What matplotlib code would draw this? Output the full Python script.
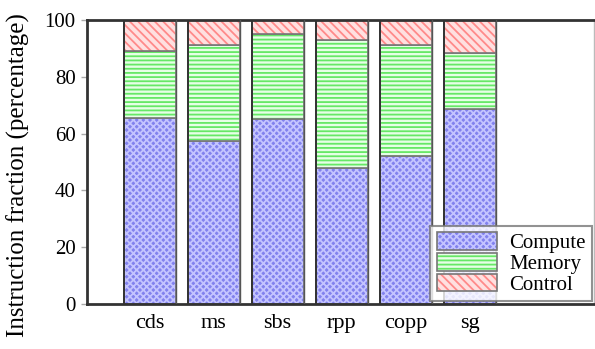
import numpy as np
import matplotlib
matplotlib.use('Agg')
import matplotlib.pyplot as plt
from matplotlib.legend_handler import HandlerTuple

plt.rcParams.update({
    "font.family": "serif",
    "font.serif": ["Liberation Serif", "Times New Roman", "DejaVu Serif"],
    "font.size": 15,
    "hatch.linewidth": 1.3,
})

benchmarks = ["cds", "ms", "sbs", "rpp", "copp", "sg"]
compute = [65.5, 57.5, 65.0, 48.0, 52.0, 68.5]
memory = [23.5, 33.5, 30.0, 45.0, 39.0, 20.0]
control = [11.0, 9.0, 5.0, 7.0, 9.0, 11.5]

# (label, face, hatch color, hatch)
styles = [
    ("Compute", "#8282ee", "#c4c4ff", "xxxxx"),
    ("Memory", "#e6ffe6", "#66e866", "----"),
    ("Control", "#ffe0e0", "#ff8a8a", "\\\\\\\\"),
]

fig = plt.figure(figsize=(5.95, 3.49), dpi=100)
ax = fig.add_axes([0.146, 0.129, 0.852, 0.814])

x = np.arange(len(benchmarks))
width = 0.81
bottom = np.zeros(len(benchmarks))
handles = []
for (label, face, hcol, hatch), vals in zip(styles, [compute, memory, control]):
    vals = np.array(vals)
    # hatched fill, then a separate outline so the hatch keeps its own color
    fill = ax.bar(x, vals, width, bottom=bottom, color=face, edgecolor=hcol,
                  hatch=hatch, linewidth=0, label=label)
    edge = ax.bar(x, vals, width, bottom=bottom, fill=False,
                  edgecolor="#777777", linewidth=1.2)
    handles.append((fill, edge))
    bottom += vals

# darker left edges between the columns
for xi in x:
    ax.plot([xi - width / 2] * 2, [0, 100], color="#333333", lw=1.4, zorder=3)
    ax.plot([xi + width / 2] * 2, [0, 100], color="#555555", lw=1.0, zorder=3)

ax.set_xlim(-0.98, 6.94)
ax.set_ylim(0, 100)
ax.set_yticks([0, 20, 40, 60, 80, 100])
ax.set_xticks(x)
ax.set_xticklabels(benchmarks)
ax.tick_params(axis='x', length=0, pad=7, labelsize=16)
ax.tick_params(axis='y', direction='out', length=4, width=1, color="#aaaaaa",
               pad=4, labelsize=15)
ax.set_ylabel("Instruction fraction (percentage)", fontsize=18)
ax.yaxis.set_label_coords(-0.113, 0.455)

for side in ["left", "top", "bottom"]:
    ax.spines[side].set_linewidth(2)
    ax.spines[side].set_color("#333333")
ax.spines["right"].set_linewidth(1)
ax.spines["right"].set_color("#bbbbbb")

leg = ax.legend(handles, ["Compute", "Memory", "Control"],
                handler_map={tuple: HandlerTuple(ndivide=1)},
                loc="lower right", bbox_to_anchor=(0.997, 0.01),
                fontsize=15, frameon=True, fancybox=False,
                handlelength=2.9, handleheight=0.9, handletextpad=0.6,
                labelspacing=0.0, borderpad=0.3, borderaxespad=0.0)
leg.get_frame().set_edgecolor("#777777")
leg.get_frame().set_linewidth(1.5)

fig.savefig("out.png", dpi=100, facecolor="white")
